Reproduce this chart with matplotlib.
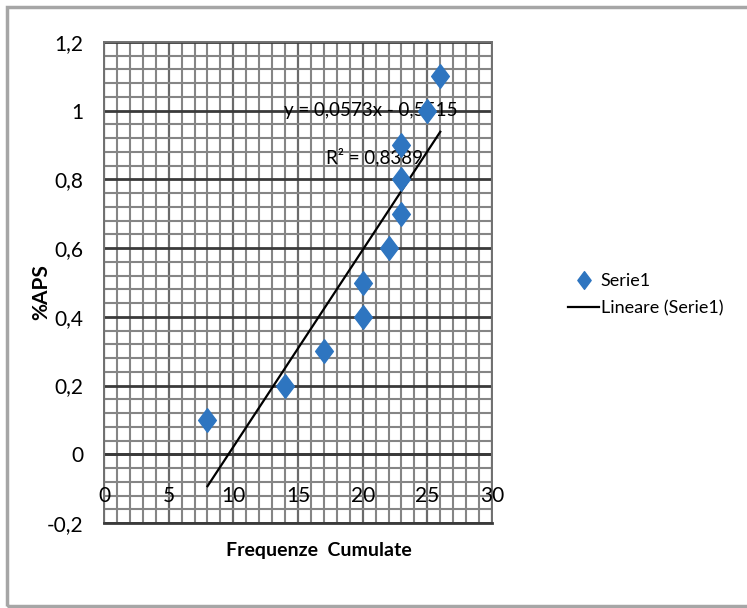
import numpy as np
import matplotlib.pyplot as plt
from matplotlib.patches import Rectangle
from matplotlib.path import Path
from matplotlib.ticker import MultipleLocator

# data
freq_cum = [8, 14, 17, 20, 20, 22, 23, 23, 23, 25, 26]
aps_pct = [0.1, 0.2, 0.3, 0.4, 0.5, 0.6, 0.7, 0.8, 0.9, 1.0, 1.1]
x_ticks = [0, 5, 10, 15, 20, 25, 30]
y_ticks = [-0.2, 0, 0.2, 0.4, 0.6, 0.8, 1.0, 1.2]
eq_text = "y = 0,0573x - 0,5515"
r2_text = "R² = 0,8389"

plt.rcParams['font.family'] = ['Lato', 'DejaVu Sans']


def comma(v):
    s = f"{v:g}"
    return s.replace(".", ",")


# excel diamond is a bit taller than wide
diamond = Path([(0, 1), (0.75, 0), (0, -1), (-0.75, 0), (0, 1)],
               [Path.MOVETO, Path.LINETO, Path.LINETO, Path.LINETO, Path.CLOSEPOLY])

fig = plt.figure(figsize=(7.47, 6.08), dpi=100)
fig.patches.append(Rectangle((7 / 747, 2 / 608), 745 / 747, 599 / 608,
                             transform=fig.transFigure, fill=False,
                             edgecolor='#a6a6a6', linewidth=2.5))

ax = fig.add_axes([104 / 747, 85 / 608, 388 / 747, 481 / 608])
ax.set_xlim(0, 30)
ax.set_ylim(-0.2, 1.2)

# grid like excel
ax.xaxis.set_major_locator(MultipleLocator(5))
ax.xaxis.set_minor_locator(MultipleLocator(1))
ax.yaxis.set_major_locator(MultipleLocator(0.2))
ax.yaxis.set_minor_locator(MultipleLocator(0.04))
ax.grid(which='minor', color='#858585', linewidth=1.5)
ax.grid(which='major', axis='x', color='#6a6a6a', linewidth=1.6)
ax.grid(which='major', axis='y', color='#3a3a3a', linewidth=2.0)
ax.set_axisbelow(True)
for s in ax.spines.values():
    s.set_color('#707070')
    s.set_linewidth(1.4)
ax.spines['bottom'].set_color('#3a3a3a')
ax.spines['bottom'].set_linewidth(2.0)
ax.axhline(0, color='#3a3a3a', linewidth=2.0, zorder=1)

ax.set_yticks(y_ticks)
ax.set_yticklabels([comma(round(v, 1)) for v in y_ticks], fontsize=15)
ax.tick_params(axis='y', which='both', length=0, pad=15)
ax.set_xticks(x_ticks)
ax.set_xticklabels([])
ax.tick_params(axis='x', which='both', length=0)
for t in x_ticks:
    ax.text(t, -0.12, str(t), ha='center', va='center', fontsize=15, zorder=4)

# points and linear trend
ax.plot(freq_cum, aps_pct, linestyle='none', marker=diamond, markersize=17,
        color='#2e75c0', label='Serie1', zorder=5)
m, q = np.polyfit(freq_cum, aps_pct, 1)
xs = np.array([min(freq_cum), max(freq_cum)])
ax.plot(xs, m * xs + q, color='black', linewidth=1.6, label='Lineare (Serie1)', zorder=4)

ax.text(20.6, 1.0, eq_text, ha='center', va='center', fontsize=13.5, zorder=3)
ax.text(20.9, 0.865, r2_text, ha='center', va='center', fontsize=13.5, zorder=3)

ax.set_xlabel('Frequenze  Cumulate', fontsize=14, fontweight='bold')
ax.set_ylabel('%APS', fontsize=15, fontweight='bold')
ax.xaxis.set_label_coords(0.555, -0.04)
ax.yaxis.set_label_coords(-0.135, 0.48)

leg = ax.legend(loc='center left', bbox_to_anchor=(1.155, 0.475), frameon=False,
                fontsize=13, handlelength=1.7, handletextpad=0.1, labelspacing=0.6,
                markerscale=0.75)

fig.savefig('out.png', dpi=100)
